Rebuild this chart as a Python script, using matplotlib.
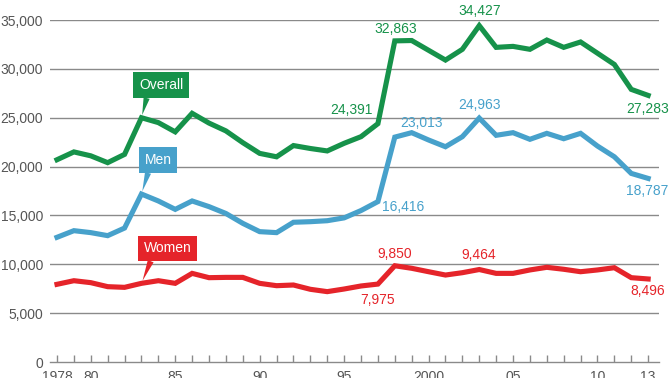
import matplotlib
matplotlib.use("Agg")
import matplotlib.pyplot as plt
from matplotlib.ticker import FuncFormatter

plt.rcParams['font.family'] = ['Liberation Sans', 'DejaVu Sans']

years = list(range(1978, 2014))
overall = [20700, 21500, 21100, 20400, 21250, 25000, 24500, 23550, 25450, 24450,
           23650, 22450, 21350, 21000, 22150, 21850, 21600, 22380, 23060, 24391,
           32863, 32900, 31900, 30900, 32000, 34427, 32200, 32300, 32000, 32950,
           32200, 32750, 31600, 30450, 27900, 27283]
men = [12760, 13440, 13240, 12930, 13710, 17190, 16480, 15620, 16480, 15900,
       15200, 14190, 13340, 13240, 14300, 14360, 14460, 14750, 15500, 16416,
       23013, 23470, 22720, 22030, 23060, 24963, 23200, 23470, 22790, 23400,
       22850, 23400, 22100, 21000, 19300, 18787]
women = [7950, 8320, 8120, 7710, 7640, 8050, 8320, 8050, 9070, 8630,
         8660, 8660, 8050, 7810, 7880, 7440, 7200, 7470, 7780, 7975,
         9850, 9590, 9240, 8900, 9140, 9464, 9070, 9070, 9420, 9690,
         9490, 9240, 9420, 9650, 8630, 8496]

xtick_years = [1978, 1980, 1985, 1990, 1995, 2000, 2005, 2010, 2013]
xtick_labels = ["1978", "80", "85", "90", "95", "2000", "05", "10", "13"]
yticks = [0, 5000, 10000, 15000, 20000, 25000, 30000, 35000]

c_overall = "#16924a"
c_men = "#47a1cb"
c_women = "#e5242a"
grid_c = "#8a8a8a"
txt_c = "#555555"

fig = plt.figure(figsize=(6.7, 3.78), dpi=100)
ax = fig.add_axes([50/670, 16/378, 609/670, 342/378])
ax.set_xlim(1978 - 7/16.89, 1978 + 602/16.89)
ax.set_ylim(0, 35000)

for y in yticks[1:]:
    ax.axhline(y, color=grid_c, lw=1.0, zorder=1)

ax.plot(years, overall, color=c_overall, lw=3.7, solid_joinstyle='miter', zorder=3)
ax.plot(years, men, color=c_men, lw=3.7, solid_joinstyle='miter', zorder=3)
ax.plot(years, women, color=c_women, lw=3.7, solid_joinstyle='miter', zorder=3)

for s in ['top', 'right', 'left']:
    ax.spines[s].set_visible(False)
ax.spines['bottom'].set_color(grid_c)
ax.spines['bottom'].set_linewidth(1.0)

ax.set_yticks(yticks)
ax.yaxis.set_major_formatter(FuncFormatter(lambda v, p: f"{int(v):,}"))
ax.tick_params(axis='y', length=0, pad=5, labelsize=10, labelcolor=txt_c)
ax.set_xticks(years, minor=True)
ax.set_xticks(xtick_years)
ax.set_xticklabels(xtick_labels)
ax.tick_params(axis='x', which='both', direction='in', length=5, width=1,
               color=grid_c, labelsize=10, labelcolor=txt_c, pad=6)

PT = 0.72  # pixels -> points at 100 dpi

def val_label(series, year, dx, dy, color):
    i = years.index(year)
    v = series[i]
    ax.annotate(f"{v:,}", xy=(year, v), xytext=(dx * PT, dy * PT),
                textcoords='offset points', ha='center', va='center',
                fontsize=10, color=color, annotation_clip=False, zorder=5)

val_label(overall, 1997, -26, 14, c_overall)
val_label(overall, 1998, 1, 12, c_overall)
val_label(overall, 2003, 0, 14.5, c_overall)
val_label(overall, 2013, -1, -14, c_overall)
val_label(men, 1998, 27, 14, c_men)
val_label(men, 2003, 0, 13, c_men)
val_label(men, 2013, -1, -13, c_men)
val_label(men, 1997, 25, -5, c_men)
val_label(women, 1998, 0, 12, c_women)
val_label(women, 1997, 0, -16, c_women)
val_label(women, 2003, -1, 15, c_women)
val_label(women, 2013, 0, -12, c_women)

def callout(series, year, name, dx, dy, color):
    i = years.index(year)
    v = series[i]
    ax.annotate(name, xy=(year, v), xytext=(dx * PT, dy * PT),
                textcoords='offset points', ha='center', va='center',
                fontsize=10, color='white', zorder=6,
                bbox=dict(boxstyle='square,pad=0.42', fc=color, ec='none'),
                arrowprops=dict(arrowstyle='wedge,tail_width=0.45,shrink_factor=0.5',
                                fc=color, ec='none', relpos=(0.2, 0.0),
                                shrinkA=0, shrinkB=2))

callout(overall, 1983, "Overall", 20, 32.5, c_overall)
callout(men, 1983, "Men", 16.5, 34, c_men)
callout(women, 1983, "Women", 26, 35, c_women)

fig.savefig("out.png", dpi=100)
